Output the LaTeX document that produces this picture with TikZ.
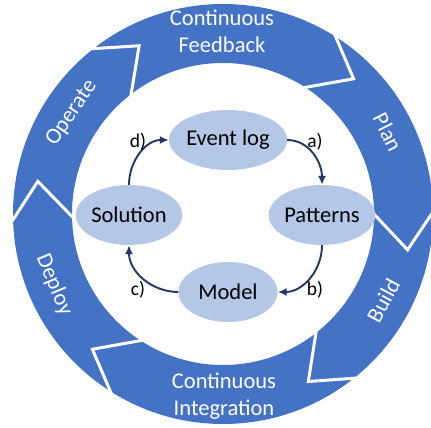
\documentclass[tikz,border=0pt]{standalone}
\usepackage{fontspec}
\setmainfont{Carlito}
\usetikzlibrary{arrows.meta,shapes.geometric}
\definecolor{ringblue}{HTML}{4472C4}
\definecolor{ellblue}{HTML}{B4C7E7}
\definecolor{navy}{HTML}{1F3864}
\begin{document}
\begin{tikzpicture}[x=1pt,y=1pt,
  ringlabel/.style={text=white,font=\fontsize{22.5}{27}\selectfont,align=center,inner sep=0pt},
  stage/.style={ellipse,fill=ellblue,minimum width=99pt,minimum height=60pt,inner sep=0pt,font=\fontsize{22.5}{27}\selectfont},
  flow/.style={navy,line width=1.9pt,-{Latex[length=9pt,width=8pt]}},
  steplabel/.style={font=\fontsize{19.5}{22}\selectfont,inner sep=0pt},
  sepline/.style={white,line width=3pt,line join=miter}]
\useasboundingbox (-223,-214) rectangle (208,214);
\clip (-223,-214) rectangle (208,214);
\fill[white] (-223,-214) rectangle (208,214);
% ring
\fill[ringblue,even odd rule] (0,0) circle (210) (0,0) circle (151);
\foreach \b in {131,60.5,3.5,-48.5,-119.5,184.5}
  \draw[sepline] (\b:218) -- ({\b-14.5}:188) -- (\b:143);
% ring labels
\node[ringlabel] (fb) at (-1,183) {Continuous\\Feedback};
\node[ringlabel] (ci) at (1,-182) {Continuous\\Integration};
\node[ringlabel,rotate=-63.6] (plan) at (26.4:184) {Plan};
\node[ringlabel,rotate=61.7] (build) at (-28.3:182) {Build};
\node[ringlabel,rotate=-67.2] (deploy) at (202.8:183) {Deploy};
\node[ringlabel,rotate=56.2] (operate) at (146.2:182) {Operate};
% inner cycle
\node[stage] (ev) at (5,74) {Event log};
\node[stage] (pat) at (99,-1) {Patterns};
\node[stage] (mod) at (5,-78) {Model};
\node[stage] (sol) at (-94,-1) {Solution};
\draw[flow] (ev.east) to[out=0,in=90] (pat.north);
\draw[flow] (pat.south) to[out=-90,in=0] (mod.east);
\draw[flow] (mod.west) to[out=180,in=-90] (sol.south);
\draw[flow] (sol.north) to[out=90,in=180] (ev.west);
\node[steplabel] (la) at (92,72) {a)};
\node[steplabel] (lb) at (92,-76) {b)};
\node[steplabel] (lc) at (-85,-76) {c)};
\node[steplabel] (ld) at (-85,72) {d)};
\end{tikzpicture}
\end{document}
